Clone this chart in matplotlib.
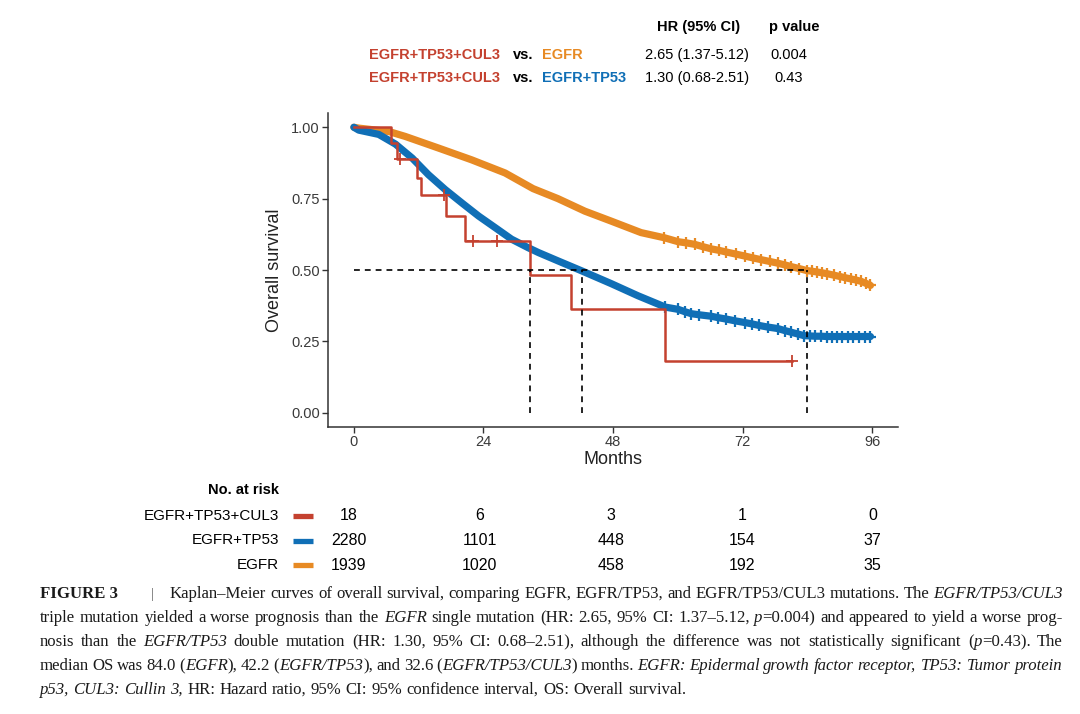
import numpy as np
import matplotlib
matplotlib.use('Agg')
import matplotlib.pyplot as plt
from matplotlib.font_manager import FontProperties, findfont, get_font

plt.rcParams['font.family'] = ['Liberation Sans', 'DejaVu Sans']

W, H = 1080, 714
RED = '#C4412F'
BLUE = '#106FB6'
ORANGE = '#E78A24'

# EGFR+TP53+CUL3 (n=18): KM steps
triple_t = [0, 6.8, 7.9, 11.7, 12.5, 17.1, 20.5, 32.6, 40.3, 57.7, 81.2]
triple_s = [1.0, 0.944, 0.889, 0.823, 0.763, 0.689, 0.600, 0.482, 0.362, 0.181, 0.181]
triple_cens_t = [8.6, 16.6, 22.1, 26.5, 81.2]
triple_cens_s = [0.889, 0.763, 0.600, 0.600, 0.181]

# EGFR+TP53 (n=2280)
double_t = [0, 0.9, 4.6, 7.7, 10.8, 13.8, 16.9, 20.0, 23.1, 26.2, 29.2, 32.3, 34.2,
            37.8, 42.2, 47.7, 52.6, 57.7, 60.1, 61.3, 62.5, 64.0, 66.2, 67.5, 69.0,
            70.6, 72.4, 73.8, 75.0, 76.7, 78.5, 79.8, 81.0, 82.2, 83.4, 84.5, 85.5,
            86.6, 87.7, 88.6, 89.5, 90.5, 91.5, 92.5, 93.5, 94.6, 95.7]
double_s = [1.0, 0.99, 0.975, 0.941, 0.892, 0.834, 0.782, 0.735, 0.689, 0.648, 0.608, 0.578, 0.561,
            0.532, 0.497, 0.452, 0.410, 0.370, 0.362, 0.354, 0.347, 0.343, 0.338, 0.333, 0.328,
            0.322, 0.316, 0.311, 0.306, 0.300, 0.295, 0.288, 0.282, 0.276, 0.270, 0.269, 0.268,
            0.268, 0.267, 0.267, 0.267, 0.267, 0.267, 0.267, 0.267, 0.267, 0.267]

# EGFR (n=1939)
single_t = [0, 0.9, 6.5, 9.5, 15.7, 21.8, 28.0, 33.2, 37.8, 42.8, 47.7, 53.2, 57.5,
            60.1, 61.6, 63.1, 64.6, 66.2, 67.6, 69.0, 70.7, 72.4, 74.0, 75.5, 77.0,
            78.5, 79.8, 81.0, 82.5, 83.9, 84.8, 85.8, 86.8, 87.7, 88.9, 90.1, 91.0,
            92.0, 93.0, 94.0, 94.9, 95.7]
single_s = [1.0, 0.997, 0.985, 0.968, 0.927, 0.886, 0.840, 0.785, 0.750, 0.706, 0.671, 0.631, 0.613,
            0.599, 0.595, 0.590, 0.582, 0.574, 0.569, 0.563, 0.556, 0.549, 0.542, 0.536, 0.530,
            0.524, 0.518, 0.512, 0.505, 0.498, 0.496, 0.493, 0.490, 0.487, 0.482, 0.477, 0.473,
            0.469, 0.465, 0.460, 0.453, 0.446]

medians = [32.6, 42.2, 84.0]
time_ticks = [0, 24, 48, 72, 96]
surv_ticks = [0.0, 0.25, 0.50, 0.75, 1.00]

risk_labels = ['EGFR+TP53+CUL3', 'EGFR+TP53', 'EGFR']
risk_colors = [RED, BLUE, ORANGE]
risk_counts = [[18, 6, 3, 1, 0],
               [2280, 1101, 448, 154, 37],
               [1939, 1020, 458, 192, 35]]

hr_left = ['EGFR+TP53+CUL3', 'EGFR+TP53+CUL3']
hr_right = ['EGFR', 'EGFR+TP53']
hr_right_colors = [ORANGE, BLUE]
hr_values = ['2.65 (1.37-5.12)', '1.30 (0.68-2.51)']
p_values = ['0.004', '0.43']

# '_' toggles italics
caption_lines = [
    "Kaplan–Meier curves of overall survival, comparing EGFR, EGFR/TP53, and EGFR/TP53/CUL3 mutations. The _EGFR/TP53/CUL3_",
    "triple mutation yielded a worse prognosis than the _EGFR_ single mutation (HR: 2.65, 95% CI: 1.37–5.12, _p_=0.004) and appeared to yield a worse prog-",
    "nosis than the _EGFR/TP53_ double mutation (HR: 1.30, 95% CI: 0.68–2.51), although the difference was not statistically significant (_p_=0.43). The",
    "median OS was 84.0 (_EGFR_), 42.2 (_EGFR/TP53_), and 32.6 (_EGFR/TP53/CUL3_) months. _EGFR: Epidermal growth factor receptor, TP53: Tumor protein_",
    "_p53, CUL3: Cullin 3,_ HR: Hazard ratio, 95% CI: 95% confidence interval, OS: Overall survival.",
]


def px(x, y):
    return x / W, 1 - y / H


fig = plt.figure(figsize=(W / 100, H / 100), dpi=100)

# ---- survival curves
ax = fig.add_axes([328 / W, 1 - 427 / H, 570 / W, 314 / H])
tail_single = [t >= 55 for t in single_t]
tail_double = [t >= 55 for t in double_t]
ax.plot(single_t, single_s, color=ORANGE, lw=5.2, solid_capstyle='round',
        marker='+', ms=9, mew=1.6, markevery=tail_single, zorder=2)
ax.plot(double_t, double_s, color=BLUE, lw=5.2, solid_capstyle='round',
        marker='+', ms=9, mew=1.6, markevery=tail_double, zorder=3)
ax.plot(triple_t, triple_s, color=RED, lw=1.8, drawstyle='steps-post', zorder=4)
ax.plot(triple_cens_t, triple_cens_s, ls='none', marker='+', ms=8, mew=1.3,
        color=RED, zorder=4)

dash = (0, (3.5, 3))
ax.plot([0, max(medians)], [0.5, 0.5], color='black', lw=1.2, ls=dash, zorder=5)
for m in medians:
    ax.plot([m, m], [0, 0.5], color='black', lw=1.2, ls=dash, zorder=5)

ax.set_xlim(-4.8, 100.8)
ax.set_ylim(-0.05, 1.05)
ax.set_xticks(time_ticks)
ax.set_yticks(surv_ticks)
ax.set_yticklabels([f'{v:.2f}' for v in surv_ticks])
for side in ['top', 'right']:
    ax.spines[side].set_visible(False)
for side in ['left', 'bottom']:
    ax.spines[side].set_linewidth(1.1)
    ax.spines[side].set_color('#333333')
ax.tick_params(length=4, width=1.0, color='#333333', labelsize=10.5,
               labelcolor='#3a3a3a', pad=2)
ax.set_xlabel('Months', fontsize=13, labelpad=1, color='#222222')
ax.set_ylabel('Overall survival', fontsize=13, labelpad=6, color='#222222')

# ---- HR table above the plot
fig.text(*px(699, 27), 'HR (95% CI)', ha='center', va='center', fontsize=10.5, weight='bold')
fig.text(*px(794, 27), 'p value', ha='center', va='center', fontsize=10.5, weight='bold')
for i, y in enumerate([55, 78]):
    fig.text(*px(500, y), hr_left[i], ha='right', va='center', fontsize=10.5,
             weight='bold', color=RED)
    fig.text(*px(513, y), 'vs.', ha='left', va='center', fontsize=10.5, weight='bold')
    fig.text(*px(542, y), hr_right[i], ha='left', va='center', fontsize=10.5,
             weight='bold', color=hr_right_colors[i])
    fig.text(*px(697, y), hr_values[i], ha='center', va='center', fontsize=10.5)
    fig.text(*px(789, y), p_values[i], ha='center', va='center', fontsize=10.5)

# ---- number at risk table
axr = fig.add_axes([328 / W, 1 - 578 / H, 570 / W, 100 / H])
axr.set_xlim(-3.81, 100.62)
axr.set_ylim(2.53, -1.55)
axr.axis('off')
axr.text(-12.8, -1.06, 'No. at risk', ha='right', va='center', fontsize=10.5,
         weight='bold', clip_on=False)
for r, label in enumerate(risk_labels):
    axr.text(-12.8, r, label, ha='right', va='center', fontsize=11, clip_on=False)
    axr.plot([-10.2, -6.6], [r, r], color=risk_colors[r], lw=3.8,
             solid_capstyle='butt', clip_on=False)
    for t, n in zip(time_ticks, risk_counts[r]):
        axr.text(t, r, str(n), ha='center', va='center', fontsize=11.5)

# ---- caption, justified word by word
cap_family = 'Liberation Serif'
fonts = {ital: get_font(findfont(FontProperties(family=cap_family,
                                                style='italic' if ital else 'normal')))
         for ital in (False, True)}


def text_width(txt, ital, size):
    # glyph advances in pixels at 100 dpi
    font = fonts[ital]
    font.set_size(size, 100)
    return sum(font.load_char(ord(c)).linearHoriAdvance for c in txt) / 65536


def parse_words(line, state):
    words = []
    for w in line.split(' '):
        segs, buf = [], ''
        for ch in w:
            if ch == '_':
                if buf:
                    segs.append((buf, state['i']))
                buf = ''
                state['i'] = not state['i']
            else:
                buf += ch
        if buf:
            segs.append((buf, state['i']))
        words.append(segs)
    return words


state = {'i': False}
parsed = [parse_words(line, state) for line in caption_lines]
starts = [170, 40, 40, 40, 40]
right_edge = 1063

# largest size at which every justified line still has a reasonable word gap
cap_size = 13.0
while cap_size > 10:
    ok = True
    for words, x0 in zip(parsed[:-1], starts[:-1]):
        total = sum(text_width(t, i, cap_size) for segs in words for t, i in segs)
        gap = (right_edge - x0 - total) / (len(words) - 1)
        if gap < 0.8 * text_width(' ', False, cap_size):
            ok = False
            break
    if ok:
        break
    cap_size -= 0.1


def place_line(words, x0, x1, y, justify=True):
    widths = [[text_width(t, i, cap_size) for t, i in segs] for segs in words]
    total = sum(sum(ws) for ws in widths)
    if justify:
        gap = (x1 - x0 - total) / (len(words) - 1)
    else:
        gap = text_width(' ', False, cap_size)
    x = x0
    for segs, ws in zip(words, widths):
        for (txt, ital), w in zip(segs, ws):
            fig.text(x / W, 1 - y / H, txt, fontsize=cap_size, family=cap_family,
                     style='italic' if ital else 'normal', va='baseline',
                     color='#1a1a1a')
            x += w
        x += gap


baselines = [598, 622, 646, 670, 694]
fig.text(*px(40, 598), 'FIGURE 3', fontsize=cap_size, family=cap_family,
         weight='bold', va='baseline', color='#1a1a1a')
fig.text(*px(151, 598), '|', fontsize=cap_size - 2, family=cap_family,
         va='baseline', color='#666666')
for i, words in enumerate(parsed):
    place_line(words, starts[i], right_edge, baselines[i], justify=(i < len(parsed) - 1))

fig.savefig('out.png', dpi=100)
